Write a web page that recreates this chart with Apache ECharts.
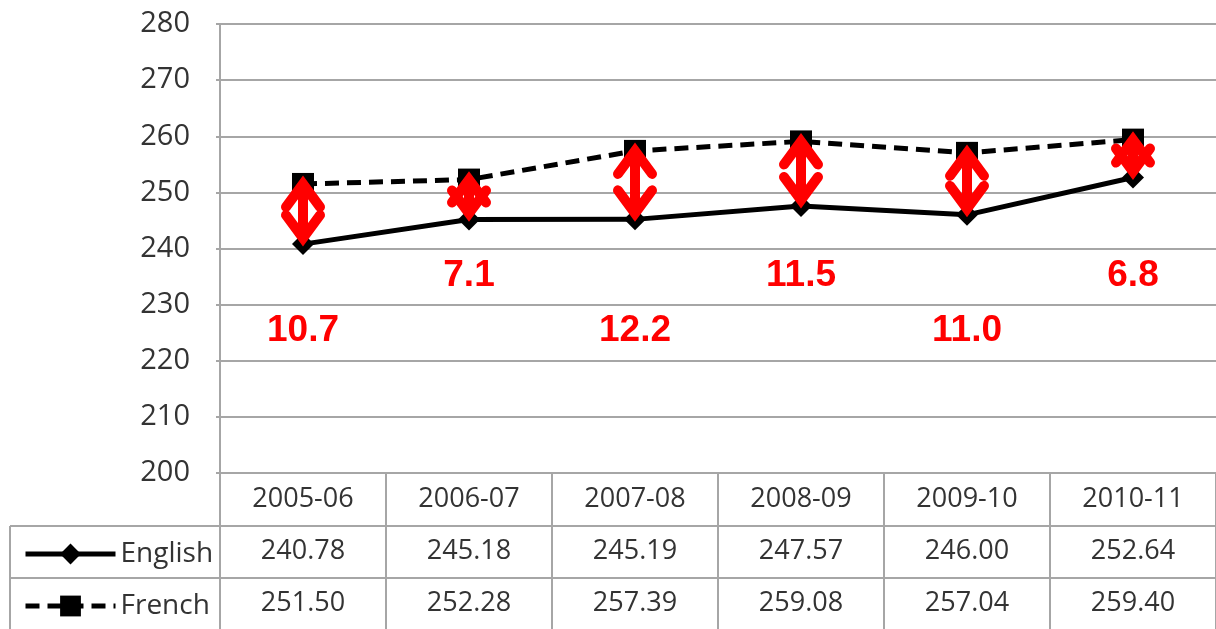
<!DOCTYPE html>
<html>
<head>
<meta charset="utf-8">
<script src="https://cdn.jsdelivr.net/npm/echarts@6/dist/echarts.min.js"></script>
<style>
  html, body { margin: 0; padding: 0; background: #fff; }
  #chart { width: 1216px; height: 629px; }
</style>
</head>
<body>
<div id="chart"></div>
<script>
// data
var years = ['2005-06', '2006-07', '2007-08', '2008-09', '2009-10', '2010-11'];
var english = [240.78, 245.18, 245.19, 247.57, 246.00, 252.64];
var french = [251.50, 252.28, 257.39, 259.08, 257.04, 259.40];
var gaps = ['10.7', '7.1', '12.2', '11.5', '11.0', '6.8'];
var yTicks = [200, 210, 220, 230, 240, 250, 260, 270, 280];

var font = '"Open Sans", sans-serif';
var gridColor = '#a6a6a6';

var chart = echarts.init(document.getElementById('chart'));

var arrowData = years.map(function (y, i) {
  return [i, french[i], english[i]];
});

var legendBase = {
  left: 18,
  itemWidth: 90, itemHeight: 26, itemGap: 8,
  lineStyle: { width: 5 },
  textStyle: { fontSize: 28, color: '#333', fontFamily: font }
};

var option = {
  animation: false,
  grid: { left: 220, right: -10, top: 24, bottom: 155 },
  legend: [
    Object.assign({ data: ['English'], top: 535 }, legendBase),
    Object.assign({ data: ['French'], top: 587 }, legendBase)
  ],
  xAxis: {
    type: 'category',
    data: years,
    boundaryGap: true,
    axisLine: { lineStyle: { color: gridColor, width: 2 } },
    axisTick: { show: true, interval: 0, length: 160, lineStyle: { color: gridColor, width: 2 } },
    axisLabel: {
      interval: 0,
      margin: 0,
      fontSize: 27,
      lineHeight: 52,
      color: '#333',
      fontFamily: font,
      formatter: function (v, i) {
        return v + '\n' + english[i].toFixed(2) + '\n' + french[i].toFixed(2);
      }
    }
  },
  yAxis: {
    type: 'value',
    min: yTicks[0],
    max: yTicks[yTicks.length - 1],
    interval: 10,
    axisLine: { show: true, lineStyle: { color: gridColor, width: 2 } },
    axisTick: { show: true, length: 4, lineStyle: { color: gridColor, width: 2 } },
    splitLine: { lineStyle: { color: gridColor, width: 2 } },
    axisLabel: { fontSize: 29, color: '#333', fontFamily: font, margin: 30 }
  },
  graphic: [
    { type: 'line', shape: { x1: 10, y1: 526, x2: 1216, y2: 526 }, style: { stroke: gridColor, lineWidth: 2 } },
    { type: 'line', shape: { x1: 10, y1: 578, x2: 1216, y2: 578 }, style: { stroke: gridColor, lineWidth: 2 } },
    { type: 'line', shape: { x1: 10, y1: 526, x2: 10, y2: 629 }, style: { stroke: gridColor, lineWidth: 2 } }
  ],
  series: [
    {
      name: 'English',
      type: 'line',
      data: english,
      symbol: 'diamond',
      symbolSize: 22,
      itemStyle: { color: '#000' },
      lineStyle: { color: '#000', width: 5 },
      z: 3
    },
    {
      name: 'French',
      type: 'line',
      data: french,
      symbol: 'rect',
      symbolSize: 22,
      itemStyle: { color: '#000' },
      lineStyle: { color: '#000', width: 5, type: [14, 8] },
      z: 3
    },
    {
      type: 'custom',
      data: arrowData,
      z: 10,
      silent: true,
      renderItem: function (params, api) {
        var i = api.value(0);
        var top = api.coord([i, api.value(1)]);
        var bot = api.coord([i, api.value(2)]);
        var x = top[0];
        var T = top[1] - 10, B = bot[1] + 4;   // visible arrow tips
        var lab = api.coord([i, i % 2 === 0 ? 225.3 : 235.2]);
        var red = '#ff0000';
        var w = 10;
        return {
          type: 'group',
          children: [
            { type: 'line', shape: { x1: x, y1: T + 10, x2: x, y2: B - 10 }, style: { stroke: red, lineWidth: w } },
            { type: 'polyline', shape: { points: [[x - 17, T + 33], [x, T + 10], [x + 17, T + 33]] },
              style: { stroke: red, lineWidth: w, fill: null, lineCap: 'round', lineJoin: 'miter', miterLimit: 10 } },
            { type: 'polyline', shape: { points: [[x - 17, B - 33], [x, B - 10], [x + 17, B - 33]] },
              style: { stroke: red, lineWidth: w, fill: null, lineCap: 'round', lineJoin: 'miter', miterLimit: 10 } },
            { type: 'text', x: lab[0], y: lab[1],
              style: { text: gaps[i], fill: red, font: 'bold 37px "Liberation Sans", Arial, sans-serif',
                       align: 'center', verticalAlign: 'middle' } }
          ]
        };
      }
    }
  ]
};

chart.setOption(option);
</script>
</body>
</html>
